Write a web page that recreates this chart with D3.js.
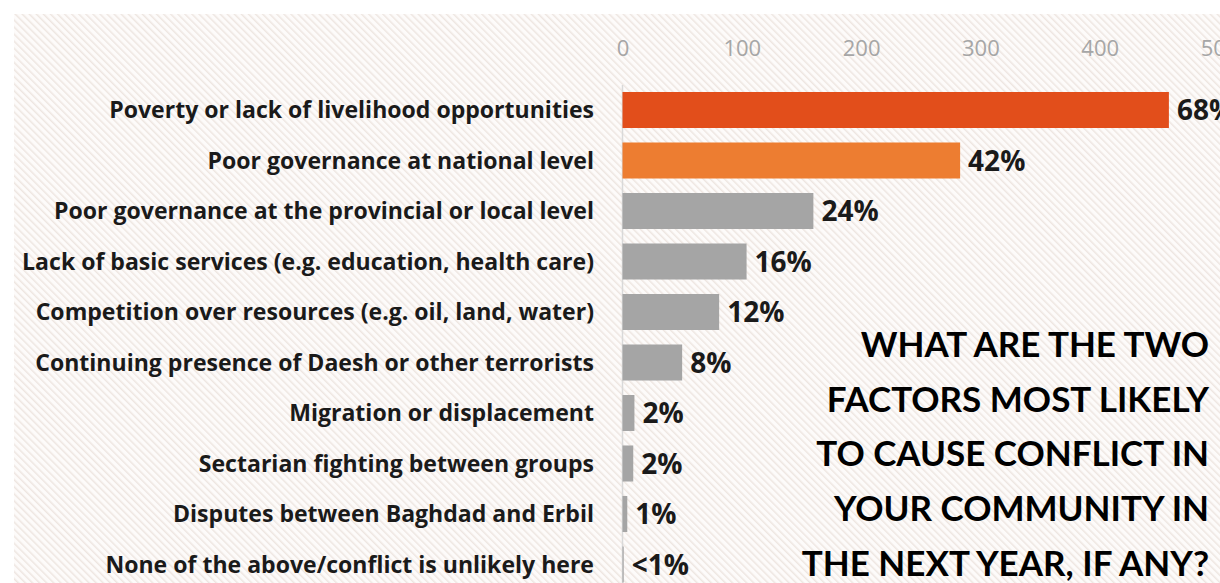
<!DOCTYPE html>
<html>
<head>
<meta charset="utf-8">
<script src="https://cdn.jsdelivr.net/npm/d3@7"></script>
<style>
  html, body { margin: 0; padding: 0; background: #fff; }
  svg { display: block; }
</style>
</head>
<body>
<svg width="1220" height="583"></svg>
<script>
// survey answers, top to bottom
const factors = [
  "Poverty or lack of livelihood opportunities",
  "Poor governance at national level",
  "Poor governance at the provincial or local level",
  "Lack of basic services (e.g. education, health care)",
  "Competition over resources (e.g. oil, land, water)",
  "Continuing presence of Daesh or other terrorists",
  "Migration or displacement",
  "Sectarian fighting between groups",
  "Disputes between Baghdad and Erbil",
  "None of the above/conflict is unlikely here"
];
const counts = [458, 283, 160, 104, 81, 50, 10, 9, 4, 1];
const shares = ["68%", "42%", "24%", "16%", "12%", "8%", "2%", "2%", "1%", "<1%"];
const xTicks = [0, 100, 200, 300, 400, 500];
const titleLines = [
  "WHAT ARE THE TWO",
  "FACTORS MOST LIKELY",
  "TO CAUSE CONFLICT IN",
  "YOUR COMMUNITY IN",
  "THE NEXT YEAR, IF ANY?"
];

let svg = d3.select("svg"),
    width = +svg.attr("width"),
    height = +svg.attr("height");

const sans = "'Open Sans', sans-serif";
const titleFont = "Lato, 'Open Sans', sans-serif";

// hatched slide background
const defs = svg.append("defs");
const pat = defs.append("pattern")
    .attr("id", "hatch")
    .attr("patternUnits", "userSpaceOnUse")
    .attr("width", 5)
    .attr("height", 5)
    .attr("patternTransform", "rotate(-45)");
pat.append("rect").attr("width", 5).attr("height", 5).attr("fill", "#fdfbfa");
pat.append("rect").attr("width", 1.5).attr("height", 5).attr("fill", "#eee6e1");

svg.append("rect")
    .attr("x", 14).attr("y", 14)
    .attr("width", width - 14).attr("height", height - 14)
    .attr("fill", "url(#hatch)");

const x = d3.scaleLinear()
    .domain([0, 500])
    .range([622.5, 1219]);

const y = d3.scaleBand()
    .domain(factors)
    .range([84.75, 589.75])
    .paddingInner(0.287)
    .paddingOuter(0.1435);

const colors = (d, i) => i === 0 ? "#e24e1b" : i === 1 ? "#ed7d31" : "#a5a5a5";

// top axis, labels only
const xAxis = svg.append("g")
    .attr("transform", "translate(0,48)")
    .call(d3.axisTop(x).tickValues(xTicks).tickSize(0).tickPadding(0));
xAxis.select(".domain").remove();
xAxis.selectAll("text")
    .attr("dy", "0.36em")
    .attr("font-family", sans)
    .attr("font-size", 22)
    .attr("fill", "#a6a6a6");

// category axis line
svg.append("line")
    .attr("x1", x(0)).attr("x2", x(0))
    .attr("y1", 85).attr("y2", height)
    .attr("stroke", "#d9d9d9")
    .attr("stroke-width", 1.5);

svg.selectAll("rect.bar")
    .data(counts)
    .enter().append("rect")
      .attr("class", "bar")
      .attr("x", x(0))
      .attr("y", (d, i) => y(factors[i]))
      .attr("width", d => x(d) - x(0))
      .attr("height", y.bandwidth())
      .attr("fill", colors);

const cats = svg.selectAll("text.cat")
    .data(factors)
    .enter().append("text")
      .attr("class", "cat")
      .attr("x", 594)
      .attr("y", d => y(d) + y.bandwidth() / 2)
      .attr("dy", "0.36em")
      .attr("text-anchor", "end")
      .attr("font-family", sans)
      .attr("font-weight", 700)
      .attr("font-size", 21)
      .attr("fill", "#1a1a1a")
      .text(d => d);

// size labels so the longest one spans like the original
let longest = d3.max(cats.nodes(), n => n.getComputedTextLength());
cats.attr("font-size", 21 * 572 / longest);

svg.selectAll("text.val")
    .data(counts)
    .enter().append("text")
      .attr("class", "val")
      .attr("x", d => x(d) + 8)
      .attr("y", (d, i) => y(factors[i]) + y.bandwidth() / 2)
      .attr("dy", "0.36em")
      .attr("font-family", sans)
      .attr("font-weight", 700)
      .attr("font-size", 28)
      .attr("fill", "#1a1a1a")
      .text((d, i) => shares[i]);

svg.append("g")
    .selectAll("text")
    .data(titleLines)
    .enter().append("text")
      .attr("x", 1209)
      .attr("y", (d, i) => 357 + i * 54.7)
      .attr("text-anchor", "end")
      .attr("font-family", titleFont)
      .attr("font-weight", 700)
      .attr("font-size", 35)
      .attr("fill", "#000")
      .text(d => d);
</script>
</body>
</html>
